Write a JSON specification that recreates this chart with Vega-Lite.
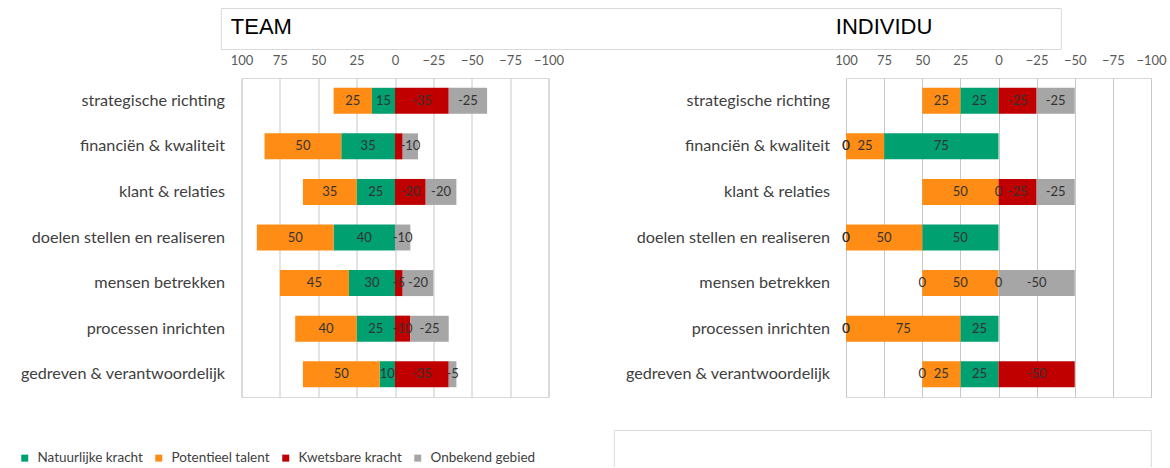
{
  "$schema": "https://vega.github.io/schema/vega-lite/v6.json",
  "background": "white",
  "padding": {"left": 5.5, "top": 8, "right": 0, "bottom": 0},
  "config": {"font": "Lato", "view": {"stroke": "#d9d9d9"}},
  "datasets": {
    "team": [
      {"cat": "strategische richting", "cls": "Natuurlijke kracht", "k": 1, "v": 15, "lbl": "15"},
      {"cat": "strategische richting", "cls": "Potentieel talent", "k": 2, "v": 25, "lbl": "25"},
      {"cat": "strategische richting", "cls": "Kwetsbare kracht", "k": 3, "v": -35, "lbl": "-35"},
      {"cat": "strategische richting", "cls": "Onbekend gebied", "k": 4, "v": -25, "lbl": "-25"},
      {"cat": "financiën & kwaliteit", "cls": "Natuurlijke kracht", "k": 1, "v": 35, "lbl": "35"},
      {"cat": "financiën & kwaliteit", "cls": "Potentieel talent", "k": 2, "v": 50, "lbl": "50"},
      {"cat": "financiën & kwaliteit", "cls": "Kwetsbare kracht", "k": 3, "v": -5, "lbl": ""},
      {"cat": "financiën & kwaliteit", "cls": "Onbekend gebied", "k": 4, "v": -10, "lbl": "-10"},
      {"cat": "klant & relaties", "cls": "Natuurlijke kracht", "k": 1, "v": 25, "lbl": "25"},
      {"cat": "klant & relaties", "cls": "Potentieel talent", "k": 2, "v": 35, "lbl": "35"},
      {"cat": "klant & relaties", "cls": "Kwetsbare kracht", "k": 3, "v": -20, "lbl": "-20"},
      {"cat": "klant & relaties", "cls": "Onbekend gebied", "k": 4, "v": -20, "lbl": "-20"},
      {"cat": "doelen stellen en realiseren", "cls": "Natuurlijke kracht", "k": 1, "v": 40, "lbl": "40"},
      {"cat": "doelen stellen en realiseren", "cls": "Potentieel talent", "k": 2, "v": 50, "lbl": "50"},
      {"cat": "doelen stellen en realiseren", "cls": "Onbekend gebied", "k": 4, "v": -10, "lbl": "-10"},
      {"cat": "mensen betrekken", "cls": "Natuurlijke kracht", "k": 1, "v": 30, "lbl": "30"},
      {"cat": "mensen betrekken", "cls": "Potentieel talent", "k": 2, "v": 45, "lbl": "45"},
      {"cat": "mensen betrekken", "cls": "Kwetsbare kracht", "k": 3, "v": -5, "lbl": "-5"},
      {"cat": "mensen betrekken", "cls": "Onbekend gebied", "k": 4, "v": -20, "lbl": "-20"},
      {"cat": "processen inrichten", "cls": "Natuurlijke kracht", "k": 1, "v": 25, "lbl": "25"},
      {"cat": "processen inrichten", "cls": "Potentieel talent", "k": 2, "v": 40, "lbl": "40"},
      {"cat": "processen inrichten", "cls": "Kwetsbare kracht", "k": 3, "v": -10, "lbl": "-10"},
      {"cat": "processen inrichten", "cls": "Onbekend gebied", "k": 4, "v": -25, "lbl": "-25"},
      {"cat": "gedreven &  verantwoordelijk", "cls": "Natuurlijke kracht", "k": 1, "v": 10, "lbl": "10"},
      {"cat": "gedreven &  verantwoordelijk", "cls": "Potentieel talent", "k": 2, "v": 50, "lbl": "50"},
      {"cat": "gedreven &  verantwoordelijk", "cls": "Kwetsbare kracht", "k": 3, "v": -35, "lbl": "-35"},
      {"cat": "gedreven &  verantwoordelijk", "cls": "Onbekend gebied", "k": 4, "v": -5, "lbl": "-5"}
    ],
    "ind": [
      {"cat": "strategische richting", "cls": "Natuurlijke kracht", "k": 1, "v": 25, "lbl": "25"},
      {"cat": "strategische richting", "cls": "Potentieel talent", "k": 2, "v": 25, "lbl": "25"},
      {"cat": "strategische richting", "cls": "Kwetsbare kracht", "k": 3, "v": -25, "lbl": "-25"},
      {"cat": "strategische richting", "cls": "Onbekend gebied", "k": 4, "v": -25, "lbl": "-25"},
      {"cat": "financiën & kwaliteit", "cls": "Natuurlijke kracht", "k": 1, "v": 75, "lbl": "75"},
      {"cat": "financiën & kwaliteit", "cls": "Potentieel talent", "k": 2, "v": 25, "lbl": "25"},
      {"cat": "financiën & kwaliteit", "cls": "Kwetsbare kracht", "k": 3, "v": 0, "lbl": "0"},
      {"cat": "financiën & kwaliteit", "cls": "Onbekend gebied", "k": 4, "v": 0, "lbl": "0"},
      {"cat": "klant & relaties", "cls": "Natuurlijke kracht", "k": 1, "v": 0, "lbl": "0"},
      {"cat": "klant & relaties", "cls": "Potentieel talent", "k": 2, "v": 50, "lbl": "50"},
      {"cat": "klant & relaties", "cls": "Kwetsbare kracht", "k": 3, "v": -25, "lbl": "-25"},
      {"cat": "klant & relaties", "cls": "Onbekend gebied", "k": 4, "v": -25, "lbl": "-25"},
      {"cat": "doelen stellen en realiseren", "cls": "Natuurlijke kracht", "k": 1, "v": 50, "lbl": "50"},
      {"cat": "doelen stellen en realiseren", "cls": "Potentieel talent", "k": 2, "v": 50, "lbl": "50"},
      {"cat": "doelen stellen en realiseren", "cls": "Kwetsbare kracht", "k": 3, "v": 0, "lbl": "0"},
      {"cat": "doelen stellen en realiseren", "cls": "Onbekend gebied", "k": 4, "v": 0, "lbl": "0"},
      {"cat": "mensen betrekken", "cls": "Natuurlijke kracht", "k": 1, "v": 0, "lbl": "0"},
      {"cat": "mensen betrekken", "cls": "Potentieel talent", "k": 2, "v": 50, "lbl": "50"},
      {"cat": "mensen betrekken", "cls": "Kwetsbare kracht", "k": 3, "v": 0, "lbl": "0"},
      {"cat": "mensen betrekken", "cls": "Onbekend gebied", "k": 4, "v": -50, "lbl": "-50"},
      {"cat": "processen inrichten", "cls": "Natuurlijke kracht", "k": 1, "v": 25, "lbl": "25"},
      {"cat": "processen inrichten", "cls": "Potentieel talent", "k": 2, "v": 75, "lbl": "75"},
      {"cat": "processen inrichten", "cls": "Kwetsbare kracht", "k": 3, "v": 0, "lbl": "0"},
      {"cat": "processen inrichten", "cls": "Onbekend gebied", "k": 4, "v": 0, "lbl": "0"},
      {"cat": "gedreven &  verantwoordelijk", "cls": "Natuurlijke kracht", "k": 1, "v": 25, "lbl": "25"},
      {"cat": "gedreven &  verantwoordelijk", "cls": "Potentieel talent", "k": 2, "v": 25, "lbl": "25"},
      {"cat": "gedreven &  verantwoordelijk", "cls": "Kwetsbare kracht", "k": 3, "v": -50, "lbl": "-50"},
      {"cat": "gedreven &  verantwoordelijk", "cls": "Onbekend gebied", "k": 4, "v": 0, "lbl": "0"}
    ]
  },
  "spacing": 0,
  "vconcat": [
    {
      "width": 819.3,
      "height": 41,
      "view": {"stroke": null},
      "data": {"values": [{"panel": "TEAM"}, {"panel": "INDIVIDU"}]},
      "layer": [
        {
          "mark": {"type": "text", "align": "left", "baseline": "middle", "font": "Liberation Sans", "fontSize": 22, "color": "#000000", "dy": -2},
          "encoding": {
            "x": {"field": "panel", "type": "nominal", "sort": null,
              "scale": {"type": "point", "range": [-20.7, 819.3], "padding": 0.194215, "align": 0.042553},
              "axis": {"orient": "top", "title": null, "labels": false, "ticks": false, "domainColor": "#d9d9d9", "minExtent": 0, "maxExtent": 0}},
            "y": {"datum": "h", "type": "nominal",
              "axis": {"orient": "left", "title": null, "labels": false, "ticks": false, "domainColor": "#d9d9d9", "offset": 20.7, "minExtent": 0, "maxExtent": 0}},
            "text": {"field": "panel"}
          }
        },
        {
          "mark": {"type": "text", "opacity": 0},
          "encoding": {
            "x": {"field": "panel", "type": "nominal", "sort": null,
              "axis": {"orient": "bottom", "title": null, "labels": false, "ticks": false, "domainColor": "#d9d9d9", "minExtent": 0, "maxExtent": 0}},
            "y": {"datum": "h", "type": "nominal",
              "axis": {"orient": "right", "title": null, "labels": false, "ticks": false, "domainColor": "#d9d9d9", "minExtent": 0, "maxExtent": 0}},
            "text": {"field": "panel"}
          }
        }
      ],
      "resolve": {"axis": {"x": "independent", "y": "independent"}}
    },
    {
      "spacing": 10.5,
      "hconcat": [
        {
          "width": 307,
          "height": 319,
          "data": {"name": "team"},
          "encoding": {
            "x": {"field": "v", "type": "quantitative", "stack": "zero",
              "scale": {"domain": [-100, 100], "reverse": true, "nice": false, "zero": false},
              "axis": {"orient": "top", "title": null, "values": [-100, -75, -50, -25, 0, 25, 50, 75, 100], "grid": true, "gridColor": "#c8c8c8", "domain": false, "ticks": false, "labelPadding": 11, "labelFontSize": 13, "labelColor": "#595959", "labelFlush": false, "labelOverlap": false, "minExtent": 28, "maxExtent": 28}},
            "y": {"field": "cat", "type": "nominal", "sort": null,
              "scale": {"paddingInner": 0.43, "paddingOuter": 0.215},
              "axis": {"orient": "left", "title": null, "ticks": false, "domain": false, "grid": false, "labelPadding": 17, "labelFontSize": 16.2, "labelColor": "#404040", "labelLimit": 400, "minExtent": 235, "maxExtent": 235}}
          },
          "layer": [
            {
              "mark": {"type": "bar"},
              "encoding": {
                "color": {"field": "cls", "type": "nominal",
                  "scale": {"domain": ["Natuurlijke kracht", "Potentieel talent", "Kwetsbare kracht", "Onbekend gebied"], "range": ["#00A070", "#FF8C14", "#C00000", "#A6A6A6"]},
                  "legend": {"orient": "none", "legendX": -223.5, "legendY": 443, "direction": "horizontal", "title": null, "symbolType": "square", "symbolSize": 49, "symbolStrokeWidth": 0, "labelFontSize": 13.5, "labelColor": "#404040", "labelOffset": 6, "columnPadding": 9, "padding": 0}},
                "order": {"field": "k", "type": "quantitative"}
              }
            },
            {
              "mark": {"type": "text", "fontSize": 13, "color": "#333333", "baseline": "middle", "align": "center"},
              "encoding": {
                "x": {"field": "v", "type": "quantitative", "stack": "zero", "bandPosition": 0.5},
                "detail": {"field": "cls"},
                "order": {"field": "k", "type": "quantitative"},
                "text": {"field": "lbl"}
              }
            }
          ]
        },
        {
          "width": 305,
          "height": 319,
          "data": {"name": "ind"},
          "encoding": {
            "x": {"field": "v", "type": "quantitative", "stack": "zero",
              "scale": {"domain": [-100, 100], "reverse": true, "nice": false, "zero": false},
              "axis": {"orient": "top", "title": null, "values": [-100, -75, -50, -25, 0, 25, 50, 75, 100], "grid": true, "gridColor": "#c8c8c8", "domain": false, "ticks": false, "labelPadding": 11, "labelFontSize": 13, "labelColor": "#595959", "labelFlush": false, "labelOverlap": false, "minExtent": 28, "maxExtent": 28}},
            "y": {"field": "cat", "type": "nominal", "sort": null,
              "scale": {"paddingInner": 0.43, "paddingOuter": 0.215},
              "axis": {"orient": "left", "title": null, "ticks": false, "domain": false, "grid": false, "labelPadding": 16.5, "labelFontSize": 16.2, "labelColor": "#404040", "labelLimit": 400, "minExtent": 270, "maxExtent": 270}}
          },
          "layer": [
            {
              "mark": {"type": "bar"},
              "encoding": {
                "color": {"field": "cls", "type": "nominal",
                  "scale": {"domain": ["Natuurlijke kracht", "Potentieel talent", "Kwetsbare kracht", "Onbekend gebied"], "range": ["#00A070", "#FF8C14", "#C00000", "#A6A6A6"]},
                  "legend": {"orient": "none", "legendX": -223.5, "legendY": 443, "direction": "horizontal", "title": null, "symbolType": "square", "symbolSize": 49, "symbolStrokeWidth": 0, "labelFontSize": 13.5, "labelColor": "#404040", "labelOffset": 6, "columnPadding": 9, "padding": 0}},
                "order": {"field": "k", "type": "quantitative"}
              }
            },
            {
              "mark": {"type": "text", "fontSize": 13, "color": "#333333", "baseline": "middle", "align": "center"},
              "encoding": {
                "x": {"field": "v", "type": "quantitative", "stack": "zero", "bandPosition": 0.5},
                "detail": {"field": "cls"},
                "order": {"field": "k", "type": "quantitative"},
                "text": {"field": "lbl"}
              }
            }
          ]
        }
      ]
    },
    {
      "width": 909.3,
      "height": 37,
      "view": {"stroke": null},
      "data": {"values": [{"p": "box"}]},
      "layer": [
        {
          "mark": {"type": "point", "opacity": 0},
          "encoding": {
            "x": {"field": "p", "type": "nominal", "scale": {"type": "point", "range": [372.3, 909.3]},
              "axis": {"orient": "top", "title": null, "labels": false, "ticks": false, "domainColor": "#d9d9d9", "minExtent": 32, "maxExtent": 32}},
            "y": {"field": "p", "type": "nominal",
              "axis": {"orient": "left", "title": null, "labels": false, "ticks": false, "domainColor": "#d9d9d9", "offset": -372.3, "minExtent": 0, "maxExtent": 0}}
          }
        },
        {
          "mark": {"type": "point", "opacity": 0},
          "encoding": {
            "x": {"field": "p", "type": "nominal", "axis": null},
            "y": {"field": "p", "type": "nominal",
              "axis": {"orient": "right", "title": null, "labels": false, "ticks": false, "domainColor": "#d9d9d9", "minExtent": 0, "maxExtent": 0}}
          }
        }
      ],
      "resolve": {"axis": {"x": "independent", "y": "independent"}}
    }
  ]
}
